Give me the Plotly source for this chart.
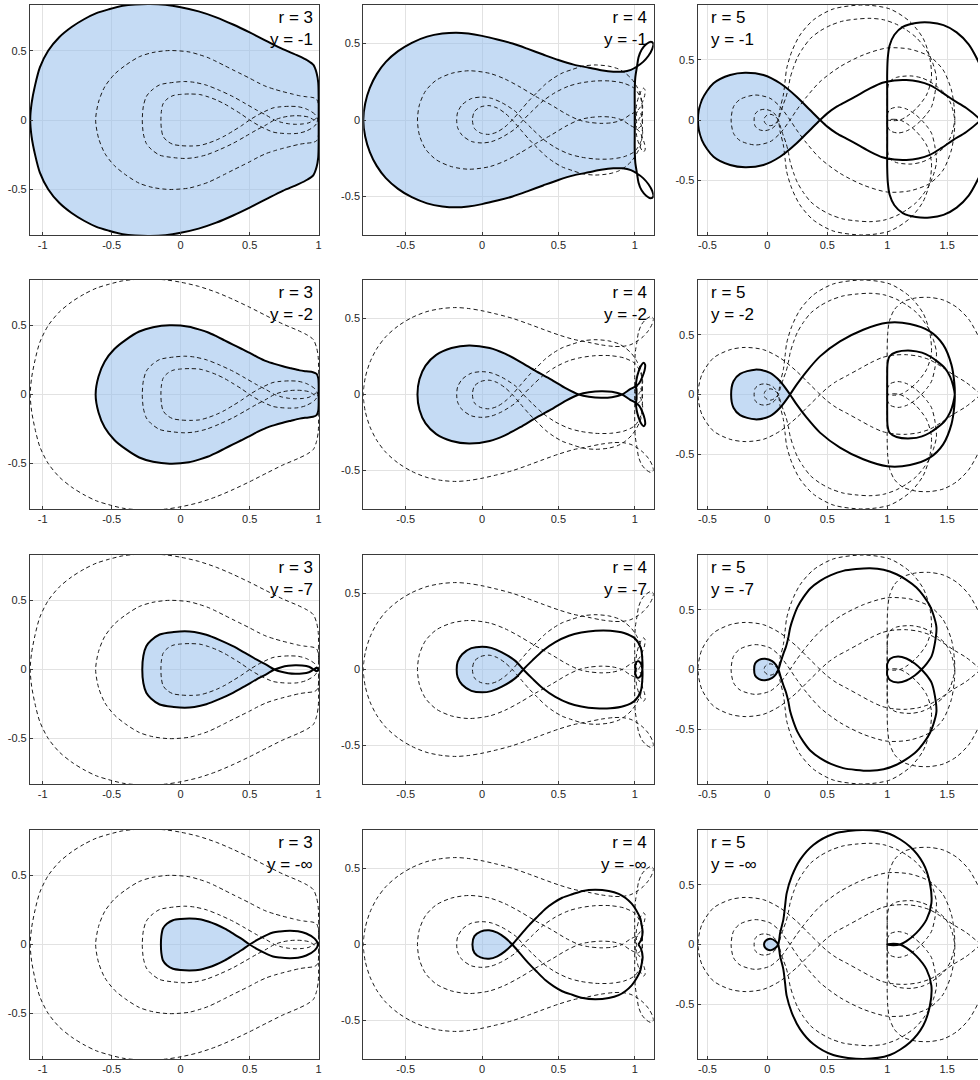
import plotly.graph_objects as go

# ---------------- labels / ticks ----------------
R_VALUES = [3, 4, 5]
Y_LABELS = ["-1", "-2", "-7", "-\u221e"]

X_TICKS = {
    3: [-1, -0.5, 0, 0.5, 1],
    4: [-0.5, 0, 0.5, 1],
    5: [-0.5, 0, 0.5, 1, 1.5],
}
X_TICK_TEXT = {
    3: ["-1", "-0.5", "0", "0.5", "1"],
    4: ["-0.5", "0", "0.5", "1"],
    5: ["-0.5", "0", "0.5", "1", "1.5"],
}
Y_TICKS = [-0.5, 0, 0.5]
Y_TICK_TEXT = ["-0.5", "0", "0.5"]

# ---------------- curve data (half paths, mirrored about the real axis) ----------------
# r = 3
R3_Y1 = [(1.0, 0.0), (1.0, 0.15), (0.997, 0.27), (0.985, 0.34), (0.962, 0.398), (0.92, 0.43),
         (0.85, 0.465), (0.74, 0.512), (0.62, 0.572), (0.5, 0.633), (0.38, 0.69), (0.258, 0.742),
         (0.13, 0.785), (0.0, 0.815), (-0.11, 0.832), (-0.22, 0.838), (-0.33, 0.835), (-0.42, 0.825),
         (-0.52, 0.80), (-0.61, 0.772), (-0.70, 0.728), (-0.79, 0.672), (-0.88, 0.598), (-0.96, 0.5),
         (-1.02, 0.38), (-1.055, 0.25), (-1.08, 0.12), (-1.09, 0.0)]
R3_Y2 = [(1.0, 0.0), (1.0, 0.07), (0.997, 0.12), (0.985, 0.15), (0.959, 0.162), (0.91, 0.168),
         (0.862, 0.175), (0.80, 0.19), (0.74, 0.205), (0.68, 0.222), (0.62, 0.242), (0.56, 0.27),
         (0.5, 0.302), (0.44, 0.332), (0.379, 0.362), (0.318, 0.393), (0.258, 0.423), (0.2, 0.45),
         (0.138, 0.471), (0.06, 0.492), (-0.08, 0.502), (-0.2, 0.488), (-0.3, 0.457), (-0.4, 0.395),
         (-0.48, 0.33), (-0.55, 0.24), (-0.595, 0.13), (-0.616, 0.0)]
R3_Y7 = [(1.0, 0.0), (0.985, 0.012), (0.965, 0.0), (0.93, -0.02), (0.88, -0.029), (0.83, -0.031),
         (0.78, -0.027), (0.73, -0.017), (0.68, 0.0), (0.62, 0.035), (0.548, 0.073), (0.47, 0.118),
         (0.379, 0.169), (0.28, 0.215), (0.186, 0.252), (0.1, 0.272), (0.03, 0.278), (-0.05, 0.272),
         (-0.152, 0.254), (-0.215, 0.21), (-0.249, 0.169), (-0.27, 0.1), (-0.278, 0.0)]
R3_YINF = [(0.995, 0.0), (0.971, 0.043), (0.91, 0.08), (0.85, 0.096), (0.79, 0.099), (0.72, 0.095),
           (0.669, 0.087), (0.572, 0.043), (0.5, 0.0), (0.44, -0.042), (0.379, -0.08), (0.32, -0.115),
           (0.258, -0.145), (0.2, -0.167), (0.138, -0.184), (0.065, -0.188), (0.0, -0.185),
           (-0.056, -0.176), (-0.1, -0.15), (-0.128, -0.116), (-0.14, -0.06), (-0.143, 0.0)]

# r = 4
R4_Y1 = [(1.0, 0.0), (1.0, 0.1), (1.0, 0.2), (1.004, 0.28), (1.015, 0.35), (1.025, 0.41),
         (1.045, 0.46), (1.075, 0.495), (1.105, 0.512), (1.122, 0.5), (1.115, 0.465), (1.09, 0.42),
         (1.055, 0.38), (1.015, 0.35), (0.975, 0.328), (0.92, 0.316), (0.86, 0.316), (0.78, 0.326),
         (0.70, 0.342), (0.60, 0.362), (0.50, 0.392), (0.40, 0.428), (0.30, 0.465), (0.20, 0.5),
         (0.10, 0.527), (0.0, 0.55), (-0.09, 0.565), (-0.17, 0.571), (-0.26, 0.565), (-0.36, 0.545),
         (-0.46, 0.505), (-0.55, 0.45), (-0.63, 0.38), (-0.69, 0.30), (-0.735, 0.21), (-0.765, 0.11),
         (-0.778, 0.0)]
R4_Y2 = [(1.012, 0.0), (1.012, 0.03), (1.008, 0.055), (1.012, 0.1), (1.025, 0.15), (1.042, 0.19),
         (1.058, 0.208), (1.068, 0.195), (1.065, 0.16), (1.05, 0.115), (1.03, 0.075), (1.008, 0.055),
         (0.97, 0.035), (0.917, 0.0), (0.85, -0.018), (0.78, -0.022), (0.70, -0.015), (0.634, 0.0),
         (0.55, 0.04), (0.45, 0.10), (0.35, 0.155), (0.25, 0.215), (0.15, 0.268), (0.05, 0.305),
         (-0.085, 0.322), (-0.2, 0.305), (-0.3, 0.26), (-0.37, 0.19), (-0.41, 0.10), (-0.423, 0.0)]
R4_Y7 = [(1.004, 0.0), (1.005, 0.035), (1.02, 0.055), (1.04, 0.04), (1.05, 0.0), (1.05, -0.06),
         (1.04, -0.14), (1.0, -0.205), (0.93, -0.24), (0.84, -0.255), (0.743, -0.255), (0.65, -0.243),
         (0.569, -0.222), (0.48, -0.18), (0.40, -0.125), (0.33, -0.06), (0.27, 0.0), (0.22, 0.055),
         (0.13, 0.113), (0.06, 0.142), (0.0, 0.150), (-0.07, 0.14), (-0.13, 0.10), (-0.16, 0.05),
         (-0.166, 0.0)]
R4_YINF = [(1.026, 0.0), (1.042, 0.03), (1.052, 0.083), (1.045, 0.13), (1.037, 0.17), (1.01, 0.225),
           (0.98, 0.268), (0.94, 0.305), (0.895, 0.333), (0.83, 0.352), (0.74, 0.36), (0.66, 0.352),
           (0.59, 0.33), (0.525, 0.307), (0.47, 0.275), (0.416, 0.235), (0.36, 0.18), (0.307, 0.126),
           (0.25, 0.06), (0.198, 0.0), (0.15, -0.045), (0.10, -0.078), (0.046, -0.094), (-0.01, -0.085),
           (-0.05, -0.055), (-0.063, 0.0)]

# r = 5
R5_Y1 = [(1.0, 0.0), (1.0, 0.2), (1.0, 0.4), (1.005, 0.52), (1.02, 0.62), (1.06, 0.71), (1.13, 0.775),
         (1.24, 0.808), (1.356, 0.812), (1.47, 0.79), (1.58, 0.73), (1.68, 0.63), (1.76, 0.49),
         (1.83, 0.33), (1.86, 0.18), (1.84, 0.07), (1.78, 0.0), (1.66, -0.10), (1.55, -0.167),
         (1.45, -0.235), (1.356, -0.29), (1.26, -0.32), (1.16, -0.333), (1.06, -0.33), (0.96, -0.31),
         (0.86, -0.265), (0.76, -0.21), (0.66, -0.155), (0.578, -0.111), (0.50, -0.055), (0.44, 0.0),
         (0.356, 0.083), (0.244, 0.194), (0.106, 0.306), (-0.033, 0.375), (-0.186, 0.394),
         (-0.311, 0.375), (-0.45, 0.306), (-0.547, 0.167), (-0.58, 0.0)]
R5_Y2 = [(1.0, 0.0), (1.0, 0.15), (1.003, 0.26), (1.02, 0.32), (1.078, 0.355), (1.2, 0.367),
         (1.29, 0.35), (1.356, 0.32), (1.42, 0.275), (1.48, 0.222), (1.525, 0.15), (1.55, 0.075),
         (1.564, 0.0), (1.56, -0.1), (1.536, -0.25), (1.467, -0.417), (1.356, -0.528), (1.19, -0.59),
         (1.0, -0.6), (0.8, -0.542), (0.606, -0.444), (0.439, -0.319), (0.328, -0.194),
         (0.244, -0.083), (0.189, 0.0), (0.106, 0.111), (0.022, 0.181), (-0.103, 0.208),
         (-0.228, 0.172), (-0.283, 0.111), (-0.303, 0.0)]
R5_Y7 = [(1.0, 0.0), (1.0, 0.045), (1.025, 0.09), (1.09, 0.108), (1.16, 0.092), (1.23, 0.05),
         (1.286, 0.0), (1.33, -0.05), (1.37, -0.11), (1.397, -0.214), (1.411, -0.353), (1.385, -0.46),
         (1.356, -0.533), (1.30, -0.62), (1.244, -0.686), (1.16, -0.75), (1.078, -0.797),
         (0.97, -0.835), (0.856, -0.847), (0.74, -0.84), (0.633, -0.825), (0.53, -0.79),
         (0.44, -0.742), (0.36, -0.68), (0.3, -0.603), (0.25, -0.52), (0.217, -0.436), (0.19, -0.35),
         (0.175, -0.269), (0.155, -0.19), (0.133, -0.131), (0.11, -0.06), (0.092, 0.0), (0.07, 0.04),
         (0.04, 0.07), (-0.02, 0.089), (-0.07, 0.08), (-0.103, 0.05), (-0.111, 0.0)]
R5_YINF = [(1.0, 0.0), (1.05, 0.006), (1.106, 0.0), (1.161, -0.028), (1.244, -0.097), (1.328, -0.208),
           (1.369, -0.347), (1.356, -0.514), (1.3, -0.68), (1.189, -0.82), (1.022, -0.925),
           (0.8, -0.958), (0.55, -0.925), (0.383, -0.833), (0.272, -0.708), (0.203, -0.569),
           (0.161, -0.43), (0.147, -0.319), (0.133, -0.208), (0.106, -0.097), (0.09, 0.0),
           (0.065, 0.03), (0.03, 0.047), (0.0, 0.042), (-0.022, 0.022), (-0.028, 0.0)]

# index ranges of each half path that bound the shaded (stable) region
FILLS = {
    (3, 0): [[(0, None)]],
    (3, 1): [[(0, None)]],
    (3, 2): [[(8, None)], [(0, 3)]],
    (3, 3): [[(8, None)]],
    (4, 0): [[(0, 5), (13, None)]],
    (4, 1): [[(17, None)], [(0, 3), (11, 14)]],
    (4, 2): [[(16, None)]],
    (4, 3): [[(19, None)]],
    (5, 0): [[(30, None)]],
    (5, 1): [[(24, None)]],
    (5, 2): [[(32, None)]],
    (5, 3): [[(20, None)]],
}

CURVES = {
    3: [R3_Y1, R3_Y2, R3_Y7, R3_YINF],
    4: [R4_Y1, R4_Y2, R4_Y7, R4_YINF],
    5: [R5_Y1, R5_Y2, R5_Y7, R5_YINF],
}

# ---------------- layout geometry ----------------
W, H = 980, 1080
COL_PX = [(30, 320), (364, 655), (699, 980)]
ROW_PX = [(5, 235), (280, 509), (555, 784), (830, 1059)]
X_RANGE = {3: [-1.092, 1.005], 4: [-0.778, 1.124], 5: [-0.583, 1.758]}
Y_RANGE = {3: [-0.831, 0.831], 4: [-0.752, 0.752], 5: [-0.958, 0.958]}

FILL_COLOR = "rgba(150,190,235,0.55)"
FONT = "Liberation Sans, Arial, sans-serif"


def mirrored(half):
    xs = [p[0] for p in half] + [p[0] for p in reversed(half)][1:]
    ys = [p[1] for p in half] + [-p[1] for p in reversed(half)][1:]
    return xs, ys


def fill_polygon(path, ranges):
    half = []
    for a, b in ranges:
        half += path[a:b]
    return mirrored(half)


fig = go.Figure()
layout = {}
annotations = []

for row in range(4):
    for col, r in enumerate(R_VALUES):
        k = row * 3 + col + 1
        xa = "x" if k == 1 else f"x{k}"
        ya = "y" if k == 1 else f"y{k}"
        curves = CURVES[r]
        path = curves[row]

        # shaded region
        for ranges in FILLS[(r, row)]:
            fx, fy = fill_polygon(path, ranges)
            fig.add_trace(go.Scatter(x=fx, y=fy, mode="lines", fill="toself",
                                     fillcolor=FILL_COLOR,
                                     line=dict(width=0, shape="spline", smoothing=0.8),
                                     hoverinfo="skip", showlegend=False, xaxis=xa, yaxis=ya))
        # other parameter values dashed
        for j, other in enumerate(curves):
            if j == row:
                continue
            ox, oy = mirrored(other)
            fig.add_trace(go.Scatter(x=ox, y=oy, mode="lines",
                                     line=dict(color="#1a1a1a", width=1, dash="4px,3px",
                                               shape="spline", smoothing=0.8),
                                     hoverinfo="skip", showlegend=False, xaxis=xa, yaxis=ya))
        # current curve solid
        sx, sy = mirrored(path)
        fig.add_trace(go.Scatter(x=sx, y=sy, mode="lines",
                                 line=dict(color="black", width=2, shape="spline", smoothing=0.8),
                                 hoverinfo="skip", showlegend=False, xaxis=xa, yaxis=ya))

        x0, x1 = COL_PX[col]
        y0, y1 = ROW_PX[row]
        axis_common = dict(showgrid=True, gridcolor="#e2e2e2", gridwidth=1, zeroline=False,
                           showline=True, linecolor="#3a3a3a", linewidth=1,
                           ticks="inside", ticklen=3, tickcolor="#3a3a3a",
                           tickfont=dict(family=FONT, size=11, color="#262626"),
                           fixedrange=True)
        layout["xaxis" if k == 1 else f"xaxis{k}"] = dict(
            domain=[x0 / W, x1 / W], range=X_RANGE[r], anchor=ya,
            tickvals=X_TICKS[r], ticktext=X_TICK_TEXT[r], mirror=True, **axis_common)
        layout["yaxis" if k == 1 else f"yaxis{k}"] = dict(
            domain=[1 - y1 / H, 1 - y0 / H], range=Y_RANGE[r], anchor=xa,
            tickvals=Y_TICKS, ticktext=Y_TICK_TEXT, mirror=(col != 2), **axis_common)

        label = f"r = {r}<br>y = {Y_LABELS[row]}"
        if col < 2:
            annotations.append(dict(text=label, xref=f"{xa} domain", yref=f"{ya} domain",
                                    x=0.985, y=0.995, xanchor="right", yanchor="top", align="right",
                                    showarrow=False, font=dict(family=FONT, size=17, color="black")))
        else:
            annotations.append(dict(text=label, xref=f"{xa} domain", yref=f"{ya} domain",
                                    x=0.04, y=0.995, xanchor="left", yanchor="top", align="left",
                                    showarrow=False, font=dict(family=FONT, size=17, color="black")))

fig.update_layout(width=W, height=H, margin=dict(l=0, r=0, t=0, b=0),
                  paper_bgcolor="white", plot_bgcolor="white",
                  annotations=annotations, **layout)
fig.write_html("out.html", config={"displayModeBar": False},
               post_script="document.body.style.margin='0';document.body.style.overflow='hidden';")
